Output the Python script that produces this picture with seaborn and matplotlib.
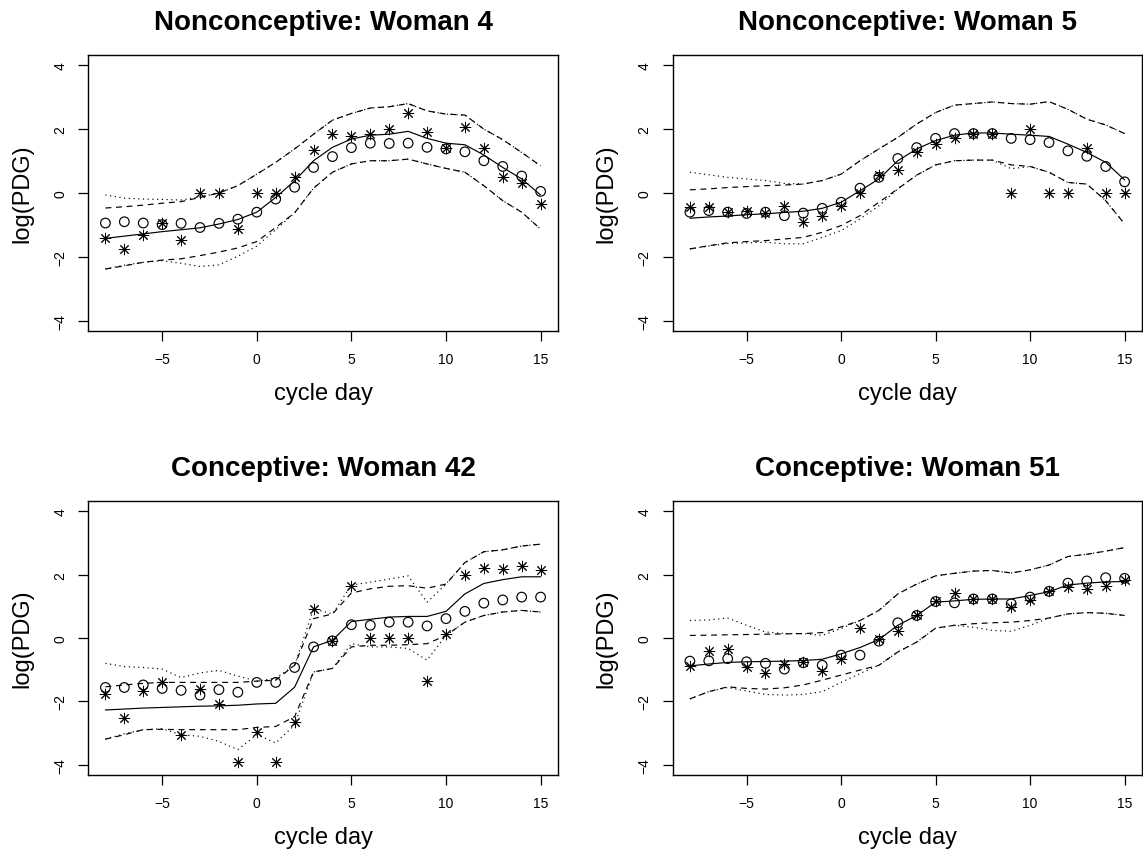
import numpy as np
import pandas as pd
import matplotlib
matplotlib.use("Agg")
import matplotlib.pyplot as plt
import seaborn as sns

# cycle days shared by every panel
days = list(range(-8, 16))

titles = ["Nonconceptive: Woman 4", "Nonconceptive: Woman 5",
          "Conceptive: Woman 42", "Conceptive: Woman 51"]

# Woman 4
w4_obs_a = [-0.94, -0.90, -0.94, -0.99, -0.95, -1.08, -0.95, -0.82, -0.60, -0.19, 0.18, 0.80,
            1.14, 1.42, 1.56, 1.55, 1.56, 1.43, 1.38, 1.29, 1.01, 0.83, 0.53, 0.05]
w4_obs_b = [-1.42, -1.75, -1.33, -0.94, -1.47, 0.00, 0.00, -1.12, 0.00, 0.00, 0.49, 1.35,
            1.84, 1.77, 1.84, 2.00, 2.49, 1.90, 1.40, 2.07, 1.40, 0.49, 0.30, -0.34]
w4_fit = [-1.42, -1.35, -1.28, -1.21, -1.15, -1.09, -0.97, -0.83, -0.60, -0.14, 0.38, 1.01,
          1.43, 1.69, 1.81, 1.84, 1.93, 1.71, 1.56, 1.51, 1.19, 0.80, 0.44, -0.06]
w4_up_dash = [-0.47, -0.43, -0.38, -0.32, -0.27, -0.14, 0.00, 0.23, 0.59, 0.96, 1.38, 1.84,
              2.28, 2.49, 2.66, 2.70, 2.80, 2.57, 2.47, 2.44, 2.00, 1.67, 1.27, 0.85]
w4_lo_dash = [-2.38, -2.28, -2.17, -2.10, -2.06, -1.96, -1.85, -1.72, -1.52, -1.08, -0.62, 0.15,
              0.65, 0.91, 1.01, 1.01, 1.06, 0.91, 0.77, 0.65, 0.23, -0.24, -0.60, -1.13]
w4_up_dot = [-0.06, -0.16, -0.19, -0.20, -0.22, -0.12, 0.00, 0.23, 0.59, 0.96, 1.38, 1.84,
             2.28, 2.49, 2.66, 2.70, 2.80, 2.57, 2.47, 2.44, 2.00, 1.67, 1.27, 0.85]
w4_lo_dot = [-2.38, -2.26, -2.17, -2.12, -2.20, -2.30, -2.25, -1.98, -1.66, -1.15, -0.62, 0.15,
             0.65, 0.91, 1.01, 1.01, 1.06, 0.91, 0.77, 0.65, 0.23, -0.24, -0.60, -1.13]

# Woman 5
w5_obs_a = [-0.60, -0.55, -0.60, -0.64, -0.60, -0.71, -0.63, -0.48, -0.29, 0.15, 0.49, 1.08,
            1.42, 1.71, 1.86, 1.86, 1.86, 1.71, 1.67, 1.58, 1.32, 1.15, 0.83, 0.35]
w5_obs_b = [-0.45, -0.45, -0.60, -0.57, -0.64, -0.42, -0.92, -0.71, -0.40, 0.00, 0.57, 0.73,
            1.27, 1.53, 1.71, 1.86, 1.86, 0.00, 2.00, 0.00, 0.00, 1.40, 0.00, 0.00]
w5_fit = [-0.79, -0.75, -0.72, -0.68, -0.65, -0.61, -0.57, -0.48, -0.29, 0.07, 0.44, 1.01,
          1.38, 1.64, 1.81, 1.88, 1.88, 1.84, 1.81, 1.77, 1.53, 1.27, 0.96, 0.41]
w5_up_dash = [0.10, 0.13, 0.17, 0.20, 0.23, 0.25, 0.28, 0.39, 0.59, 1.01, 1.38, 1.74,
              2.16, 2.52, 2.75, 2.80, 2.85, 2.80, 2.78, 2.86, 2.62, 2.31, 2.13, 1.86]
w5_lo_dash = [-1.75, -1.65, -1.56, -1.52, -1.49, -1.44, -1.39, -1.23, -1.02, -0.71, -0.29, 0.13,
              0.56, 0.88, 1.01, 1.03, 1.03, 0.88, 0.83, 0.65, 0.33, 0.28, -0.24, -0.97]
w5_up_dot = [0.65, 0.57, 0.49, 0.44, 0.39, 0.30, 0.28, 0.39, 0.59, 1.01, 1.38, 1.74,
             2.16, 2.52, 2.75, 2.80, 2.85, 2.80, 2.78, 2.86, 2.62, 2.31, 2.13, 1.86]
w5_lo_dot = [-1.75, -1.66, -1.58, -1.56, -1.54, -1.59, -1.59, -1.39, -1.18, -0.81, -0.40, 0.13,
             0.56, 0.88, 1.01, 1.03, 1.03, 0.76, 0.83, 0.65, 0.33, 0.28, -0.24, -0.97]

# Woman 42
w42_obs_a = [-1.56, -1.56, -1.48, -1.59, -1.65, -1.80, -1.63, -1.71, -1.40, -1.40, -0.93, -0.28,
             -0.09, 0.42, 0.40, 0.50, 0.50, 0.38, 0.61, 0.84, 1.10, 1.20, 1.29, 1.29]
w42_obs_b = [-1.78, -2.51, -1.67, -1.40, -3.05, -1.61, -2.09, -3.91, -2.97, -3.91, -2.66, 0.90,
             -0.09, 1.65, 0.00, 0.00, 0.00, -1.35, 0.14, 2.00, 2.20, 2.17, 2.26, 2.15]
w42_fit = [-2.27, -2.24, -2.21, -2.19, -2.17, -2.15, -2.14, -2.12, -2.08, -2.06, -1.55, -0.28,
           -0.07, 0.52, 0.59, 0.66, 0.68, 0.68, 0.84, 1.39, 1.72, 1.84, 1.93, 1.93]
w42_up_dash = [-1.54, -1.48, -1.43, -1.40, -1.40, -1.40, -1.40, -1.40, -1.36, -1.33, -0.86, 0.61,
               0.76, 1.42, 1.55, 1.63, 1.65, 1.57, 1.70, 2.38, 2.72, 2.78, 2.90, 2.96]
w42_lo_dash = [-3.19, -3.05, -2.89, -2.88, -2.89, -2.89, -2.89, -2.89, -2.82, -2.79, -2.48, -1.07,
               -0.96, -0.28, -0.23, -0.23, -0.21, -0.18, 0.08, 0.50, 0.71, 0.82, 0.87, 0.82]
w42_up_dot = [-0.80, -0.90, -0.93, -0.98, -1.25, -1.10, -1.02, -1.20, -1.36, -1.27, -0.86, 0.92,
              0.76, 1.67, 1.76, 1.86, 1.96, 1.13, 1.70, 2.38, 2.72, 2.78, 2.90, 2.96]
w42_lo_dot = [-3.19, -3.02, -2.89, -2.86, -3.05, -3.10, -3.26, -3.52, -3.05, -3.31, -2.74, -1.07,
              -0.96, -0.18, -0.28, -0.28, -0.33, -0.70, 0.08, 0.50, 0.71, 0.82, 0.87, 0.82]

# Woman 51
w51_obs_a = [-0.73, -0.72, -0.65, -0.75, -0.80, -0.98, -0.78, -0.86, -0.54, -0.54, -0.10, 0.48,
             0.71, 1.15, 1.11, 1.23, 1.23, 1.08, 1.29, 1.47, 1.73, 1.80, 1.90, 1.88]
w51_obs_b = [-0.89, -0.42, -0.36, -0.91, -1.10, -0.83, -0.75, -1.04, -0.65, 0.31, -0.02, 0.21,
             0.71, 1.18, 1.41, 1.23, 1.23, 0.99, 1.21, 1.47, 1.60, 1.55, 1.65, 1.84]
w51_fit = [-0.88, -0.82, -0.77, -0.75, -0.74, -0.73, -0.71, -0.67, -0.50, -0.30, -0.05, 0.40,
           0.71, 1.13, 1.17, 1.22, 1.23, 1.23, 1.34, 1.46, 1.67, 1.73, 1.77, 1.78]
w51_up_dash = [0.08, 0.09, 0.10, 0.11, 0.12, 0.13, 0.14, 0.17, 0.35, 0.55, 0.87, 1.39,
               1.70, 1.96, 2.04, 2.11, 2.13, 2.05, 2.15, 2.30, 2.57, 2.64, 2.74, 2.85]
w51_lo_dash = [-1.92, -1.69, -1.54, -1.59, -1.61, -1.57, -1.48, -1.33, -1.17, -1.01, -0.86, -0.44,
               -0.13, 0.31, 0.40, 0.45, 0.48, 0.50, 0.55, 0.63, 0.76, 0.80, 0.78, 0.71]
w51_up_dot = [0.55, 0.57, 0.63, 0.40, 0.19, 0.14, 0.14, 0.08, 0.30, 0.55, 0.87, 1.39,
              1.70, 1.96, 2.04, 2.11, 2.13, 2.05, 2.15, 2.30, 2.57, 2.64, 2.74, 2.85]
w51_lo_dot = [-1.92, -1.69, -1.56, -1.67, -1.78, -1.80, -1.78, -1.69, -1.40, -1.12, -0.86, -0.44,
              -0.13, 0.31, 0.40, 0.34, 0.24, 0.21, 0.40, 0.63, 0.76, 0.80, 0.78, 0.71]

panels = [
    (w4_obs_a, w4_obs_b, w4_fit, w4_up_dash, w4_lo_dash, w4_up_dot, w4_lo_dot),
    (w5_obs_a, w5_obs_b, w5_fit, w5_up_dash, w5_lo_dash, w5_up_dot, w5_lo_dot),
    (w42_obs_a, w42_obs_b, w42_fit, w42_up_dash, w42_lo_dash, w42_up_dot, w42_lo_dot),
    (w51_obs_a, w51_obs_b, w51_fit, w51_up_dash, w51_lo_dash, w51_up_dot, w51_lo_dot),
]

sns.set_style("white")
plt.rcParams["font.family"] = ["Liberation Sans", "DejaVu Sans"]
plt.rcParams.update({"text.color": "black", "axes.labelcolor": "black",
                     "xtick.color": "black", "ytick.color": "black",
                     "axes.edgecolor": "black"})

W, H = 1143, 854
fig = plt.figure(figsize=(W / 100, H / 100), dpi=100)

# axes boxes in pixels: (left, top, width, height)
boxes = [(88, 56, 470, 276), (672.5, 56, 469.5, 276),
         (88, 502, 470, 274), (672.5, 502, 469.5, 274)]

DASH = (0, (5, 4))
DOT = (0, (1, 3))
LW = 0.85

for (bx, by, bw, bh), title, data in zip(boxes, titles, panels):
    ax = fig.add_axes([bx / W, 1 - (by + bh) / H, bw / W, bh / H])
    obs_a, obs_b, fit, up_dash, lo_dash, up_dot, lo_dot = data
    df = pd.DataFrame({"day": days, "a": obs_a, "b": obs_b, "fit": fit,
                       "ud": up_dash, "ld": lo_dash, "uo": up_dot, "lo": lo_dot})

    for col in ("ud", "ld"):
        sns.lineplot(data=df, x="day", y=col, ax=ax, color="black", lw=LW,
                     linestyle=DASH)
    for col in ("uo", "lo"):
        sns.lineplot(data=df, x="day", y=col, ax=ax, color="black", lw=LW,
                     linestyle=DOT)
    sns.lineplot(data=df, x="day", y="fit", ax=ax, color="black", lw=LW)

    sns.scatterplot(data=df, x="day", y="a", ax=ax, marker="o", s=48,
                    facecolor="none", edgecolor="black", linewidth=0.85, zorder=3)
    sns.scatterplot(data=df, x="day", y="b", ax=ax, marker=(8, 2, 0), s=58,
                    color="black", linewidth=0.7, zorder=3)

    ax.set_xlim(-8.92, 15.92)
    ax.set_ylim(-4.32, 4.32)
    ax.set_xticks([-5, 0, 5, 10, 15])
    ax.set_yticks([-4, -2, 0, 2, 4])
    ax.set_xticklabels(["\u22125", "0", "5", "10", "15"])
    ax.set_yticklabels(["\u22124", "\u22122", "0", "2", "4"], rotation=90, va="center")
    ax.tick_params(axis="both", direction="out", length=7, width=0.9, color="black",
                   labelsize=10, pad=8, bottom=True, left=True, labelcolor="black")
    for sp in ax.spines.values():
        sp.set_visible(True)
        sp.set_color("black")
        sp.set_linewidth(1.0)

    ax.set_title(title, fontsize=20, fontweight="bold", pad=19, color="black")
    ax.set_xlabel("cycle day", fontsize=17, color="black")
    ax.set_ylabel("log(PDG)", fontsize=17, color="black")
    ax.xaxis.set_label_coords(0.5, -0.225)
    ax.xaxis.label.set_va("center")
    ax.yaxis.set_label_coords(-0.14, 0.5)
    ax.yaxis.label.set_va("center")

fig.savefig("out.png", dpi=100)
